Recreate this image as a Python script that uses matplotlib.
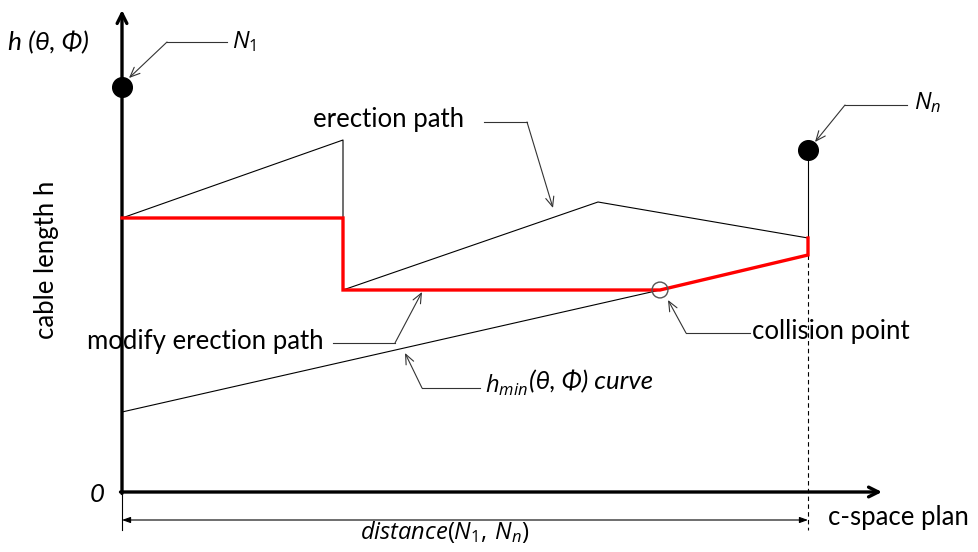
import matplotlib.pyplot as plt

plt.rcParams['font.family'] = ['Lato', 'DejaVu Sans']
plt.rcParams['mathtext.fontset'] = 'custom'
plt.rcParams['mathtext.rm'] = 'Open Sans'
plt.rcParams['mathtext.it'] = 'Open Sans:italic'
plt.rcParams['mathtext.fallback'] = 'stixsans'

# diagram units: origin at the axes corner, x = distance, y = cable length
x_end = 686
y_top = 482
x_arrow = 760

erect_x = [0, 221, 221, 476, 686]
erect_y = [274, 352, 202, 290, 254]

modify_x = [0, 221, 221, 538, 686, 686]
modify_y = [274, 274, 202, 202, 237, 254]

hmin_x = [0, 538]
hmin_y = [80, 202]

node_x = [0, 686]
node_y = [405, 342]
collision = (538, 202)

fig = plt.figure(figsize=(9.79, 5.52), dpi=100)
ax = fig.add_axes([0, 0, 1, 1])
ax.set_xlim(-122, 857)
ax.set_ylim(-60, 492)
ax.axis('off')

# axes with arrow heads
ax.annotate('', xy=(0, y_top), xytext=(0, -1.5),
            arrowprops=dict(arrowstyle='->,head_length=0.7,head_width=0.35', lw=2.4, color='black',
                            shrinkA=0, shrinkB=0))
ax.annotate('', xy=(x_arrow, 0), xytext=(-1.5, 0),
            arrowprops=dict(arrowstyle='->,head_length=0.7,head_width=0.35', lw=2.4, color='black',
                            shrinkA=0, shrinkB=0))

# paths
ax.plot(erect_x, erect_y, color='black', lw=0.8, zorder=2)
ax.plot(hmin_x, hmin_y, color='black', lw=0.8, zorder=2)
ax.plot(modify_x, modify_y, color='#ff0000', lw=2.4, zorder=3, solid_joinstyle='miter')

# end node stem and dashed drop line
ax.plot([x_end, x_end], [node_y[1], erect_y[-1]], color='black', lw=0.8)
ax.plot([x_end, x_end], [modify_y[-2], -38], color='black', lw=0.8, ls=(0, (4, 3)), zorder=1)
ax.plot([0, 0], [-3, -38], color='black', lw=0.8)

ax.scatter(node_x, node_y, s=200, color='black', zorder=5)
ax.scatter([collision[0]], [collision[1]], s=130, facecolor='none', edgecolor='#555555', lw=1, zorder=4)

# distance dimension
ax.annotate('', xy=(0, -28), xytext=(x_end, -28),
            arrowprops=dict(arrowstyle='<|-|>,head_length=0.5,head_width=0.18', lw=0.8, color='black',
                            shrinkA=0, shrinkB=0))

leader = dict(arrowstyle='->,head_length=0.7,head_width=0.3', lw=0.8, color='#333333', shrinkA=0, shrinkB=0)


def callout(points, tip):
    xs = [p[0] for p in points]
    ys = [p[1] for p in points]
    ax.plot(xs, ys, color='#333333', lw=0.8)
    ax.annotate('', xy=tip, xytext=points[-1], arrowprops=leader)


callout([(105, 450), (45, 450)], (7, 414))
callout([(785, 387), (723, 387)], (693, 350))
callout([(362, 370), (405, 370)], (431, 284))
callout([(211, 149), (273, 149)], (300, 200))
callout([(358, 104), (300, 104)], (283, 139))
callout([(628, 159), (564, 159)], (546, 192))

fs = 18.5
ax.text(-114, 449, 'h (θ, Φ)', fontsize=19, style='italic', ha='left', va='center')
ax.text(110, 450, r'$N_\mathrm{1}$', fontsize=17, ha='left', va='center')
ax.text(792, 389, r'$N_n$', fontsize=17, ha='left', va='center')

ax.text(191, 372, 'erection path', fontsize=fs, ha='left', va='center')
ax.text(-35, 151, 'modify erection path', fontsize=fs, ha='left', va='center')
ax.text(630, 161, 'collision point', fontsize=fs, ha='left', va='center')

hmin_label = ax.text(363, 107, r'$h_{min}$', fontsize=17, ha='left', va='center')
ax.annotate('(θ, Φ) curve', xy=(1, 0.5), xycoords=hmin_label, xytext=(1, 2.5),
            textcoords='offset points', fontsize=fs, style='italic', ha='left', va='center')

ax.text(-75, 232, 'cable length h', fontsize=fs, rotation=90, ha='center', va='center')
ax.text(-25, -3, '0', fontsize=fs, style='italic', ha='center', va='center')
ax.text(323, -40, r'$distance(N_\mathrm{1},\,N_n)$', fontsize=17, ha='center', va='center')
ax.text(706, -25, 'c-space plan', fontsize=fs, ha='left', va='center')

fig.savefig('out.png', dpi=100)
